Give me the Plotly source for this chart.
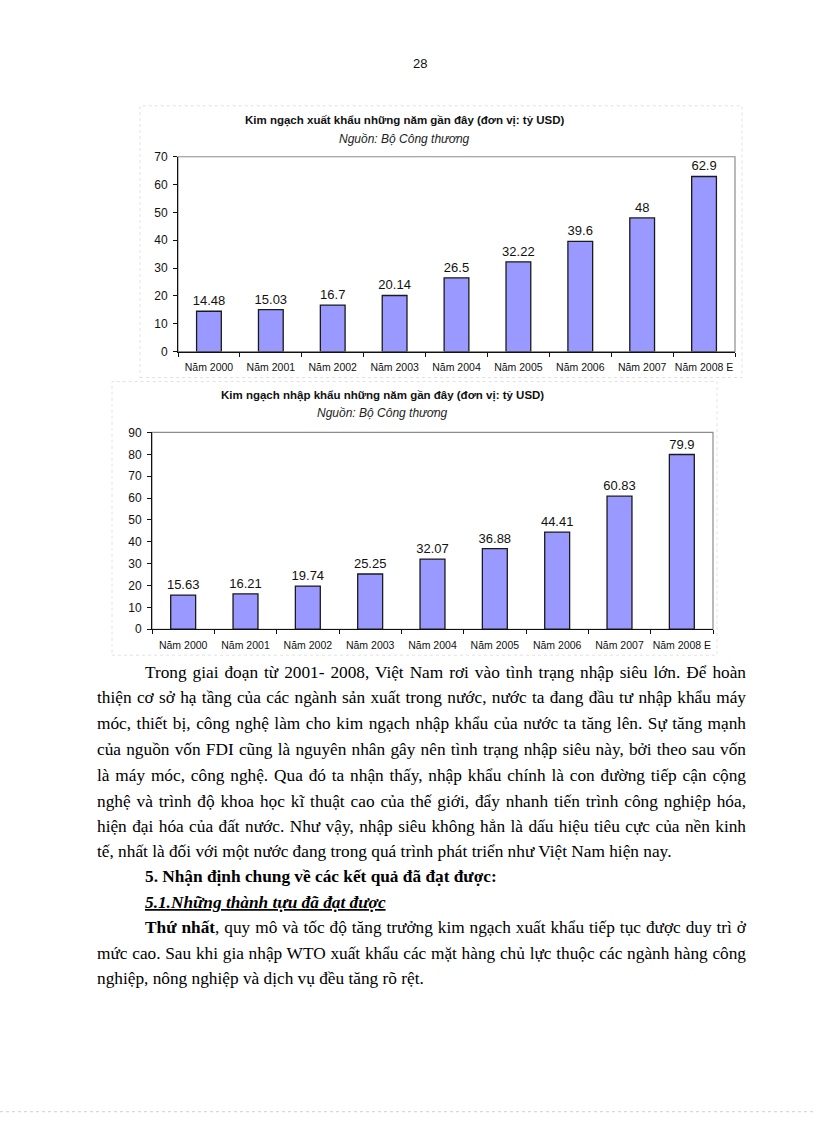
import json
import plotly.graph_objects as go

W, H = 816, 1123
# measured: the photographed page maps figure y to 0.9886*y + 6.1, so invert it
Y_SCALE, Y_OFF = 0.9886, 6.1

categories = ["Năm 2000", "Năm 2001", "Năm 2002", "Năm 2003", "Năm 2004",
              "Năm 2005", "Năm 2006", "Năm 2007", "Năm 2008 E"]
export_values = [14.48, 15.03, 16.7, 20.14, 26.5, 32.22, 39.6, 48, 62.9]
import_values = [15.63, 16.21, 19.74, 25.25, 32.07, 36.88, 44.41, 60.83, 79.9]
export_labels = ["14.48", "15.03", "16.7", "20.14", "26.5", "32.22", "39.6", "48", "62.9"]
import_labels = ["15.63", "16.21", "19.74", "25.25", "32.07", "36.88", "44.41", "60.83", "79.9"]

title1 = "Kim ngạch xuất khẩu những năm gần đây (đơn vị: tỷ USD)"
title2 = "Kim ngạch nhập khẩu những năm gần đây (đơn vị: tỷ USD)"
source = "Nguồn: Bộ Công thương"
page_number = "28"

body_lines = [
    "Trong giai đoạn từ 2001- 2008, Việt Nam rơi vào tình trạng nhập siêu lớn. Để hoàn",
    "thiện cơ sở hạ tầng của các ngành sản xuất trong nước, nước ta đang đầu tư nhập khẩu máy",
    "móc, thiết bị, công nghệ làm cho kim ngạch nhập khẩu của nước ta tăng lên. Sự tăng mạnh",
    "của nguồn vốn FDI cũng là nguyên nhân gây nên tình trạng nhập siêu này, bởi theo sau vốn",
    "là máy móc, công nghệ. Qua đó ta nhận thấy, nhập khẩu chính là con đường tiếp cận cộng",
    "nghệ và trình độ khoa học kĩ thuật cao của thế giới, đẩy nhanh tiến trình công nghiệp hóa,",
    "hiện đại hóa của đất nước. Như vậy, nhập siêu không hẳn là dấu hiệu tiêu cực của nền kinh",
    "tế, nhất là đối với một nước đang trong quá trình phát triển như Việt Nam hiện nay.",
    "<b>5. Nhận định chung về các kết quả đã đạt được:</b>",
    "<b><i><span style='text-decoration:underline'>5.1.Những thành tựu đã đạt được</span></i></b>",
    "<b>Thứ nhất</b>, quy mô và tốc độ tăng trưởng kim ngạch xuất khẩu tiếp tục được duy trì ở",
    "mức cao. Sau khi gia nhập WTO xuất khẩu các mặt hàng chủ lực thuộc các ngành hàng công",
    "nghiệp, nông nghiệp và dịch vụ đều tăng rõ rệt.",
]
body_indent = [1, 0, 0, 0, 0, 0, 0, 0, 1, 1, 1, 0, 0]
body_justify = [1, 1, 1, 1, 1, 1, 1, 0, 0, 0, 1, 1, 0]
body_y = [672, 697, 723, 749, 775, 801, 826, 852, 877, 903, 928, 954, 979]

BAR = "#9999ff"
EDGE = "#1a1a1a"
SANS = "Liberation Sans, Arial, sans-serif"
SERIF = "Liberation Serif, Times New Roman, serif"
LEFT, INDENT, RIGHT = 96, 144, 745


def px_x(v):
    return v / W


def px_y(v):
    return 1 - ((v - Y_OFF) / Y_SCALE) / H


fig = go.Figure()

for vals, labs, xa, ya in ((export_values, export_labels, "x", "y"),
                           (import_values, import_labels, "x2", "y2")):
    fig.add_trace(go.Bar(
        x=categories, y=vals, text=labs, textposition="outside",
        constraintext="none",
        textfont=dict(family=SANS, size=13, color="#111"), cliponaxis=False,
        marker=dict(color=BAR, line=dict(color=EDGE, width=1.3)), width=0.4,
        xaxis=xa, yaxis=ya, showlegend=False, hoverinfo="skip"))

xa_common = dict(type="category", showgrid=False, showline=True, linecolor="#111",
                 linewidth=1, ticks="outside", tickson="boundaries", ticklen=4,
                 tickcolor="#111", tickangle=0, ticklabelstandoff=6,
                 tickfont=dict(family=SANS, size=10.5, color="#111"),
                 fixedrange=True)
ya_common = dict(showgrid=False, showline=True, linecolor="#111", linewidth=1,
                 ticks="outside", ticklen=4, tickcolor="#111", dtick=10,
                 ticklabelstandoff=3,
                 tickfont=dict(family=SANS, size=12, color="#111"), zeroline=False,
                 fixedrange=True)

fig.update_layout(
    width=W, height=H, margin=dict(l=0, r=0, t=0, b=0),
    paper_bgcolor="white", plot_bgcolor="white",
    xaxis=dict(domain=[px_x(178), px_x(735)], anchor="y", **xa_common),
    yaxis=dict(domain=[px_y(351), px_y(156)], anchor="x", range=[0, 70], **ya_common),
    xaxis2=dict(domain=[px_x(152), px_x(713)], anchor="y2", **xa_common),
    yaxis2=dict(domain=[px_y(629), px_y(432)], anchor="x2", range=[0, 90], **ya_common),
    bargap=0.6,
)

shapes = []
for xr, yr in (("x domain", "y domain"), ("x2 domain", "y2 domain")):
    shapes.append(dict(type="rect", xref=xr, yref=yr, x0=0, x1=1, y0=0, y1=1,
                       line=dict(color="#8c8c8c", width=1.2), layer="below"))
shapes.append(dict(type="rect", xref="paper", yref="paper", x0=px_x(140), x1=px_x(742),
                   y0=px_y(377), y1=px_y(105), line=dict(color="#e2e2e2", width=1, dash="dot")))
shapes.append(dict(type="rect", xref="paper", yref="paper", x0=px_x(112), x1=px_x(717),
                   y0=px_y(655), y1=px_y(381), line=dict(color="#e2e2e2", width=1, dash="dot")))
shapes.append(dict(type="line", xref="paper", yref="paper", x0=0, x1=1,
                   y0=px_y(1112), y1=px_y(1112), line=dict(color="#d0d0d0", width=1, dash="dot")))
fig.update_layout(shapes=shapes)

ann = []
ann.append(dict(text=page_number, x=px_x(420), y=px_y(63), xref="paper", yref="paper",
                yanchor="middle", showarrow=False, font=dict(family=SANS, size=13, color="#111")))
for t, cx, cy in ((title1, 404.5, 120), (title2, 382.5, 395)):
    ann.append(dict(text="<b>" + t + "</b>", x=px_x(cx), y=px_y(cy), xref="paper",
                    yref="paper", yanchor="middle", showarrow=False,
                    font=dict(family=SANS, size=11.5, color="#111")))
for cx, cy in ((404.5, 138), (382.5, 413)):
    ann.append(dict(text="<i>" + source + "</i>", x=px_x(cx), y=px_y(cy), xref="paper",
                    yref="paper", yanchor="middle", showarrow=False,
                    font=dict(family=SANS, size=12, color="#222")))

justify_targets = {}
for line, ind, jus, yy in zip(body_lines, body_indent, body_justify, body_y):
    x0 = INDENT if ind else LEFT
    if jus:
        justify_targets[len(ann)] = RIGHT - x0
    ann.append(dict(text=line, x=px_x(x0), y=px_y(yy), xref="paper", yref="paper",
                    xanchor="left", yanchor="middle", align="left", showarrow=False,
                    borderpad=0, font=dict(family=SERIF, size=17.3, color="#000")))

fig.update_layout(annotations=ann)

# spread words of justified paragraph lines to the full text width
post = """
var gd = document.getElementById('{plot_id}');
var targets = %s;
gd.querySelectorAll('g.annotation').forEach(function(g){
  var idx = g.getAttribute('data-index');
  if (!(idx in targets)) return;
  var t = g.querySelector('text.annotation-text');
  if (!t) return;
  t.style.wordSpacing = '0px';
  var len = t.getComputedTextLength();
  var n = (t.textContent.trim().match(/\\s+/g) || []).length;
  if (n > 0 && targets[idx] > len) {
    t.style.wordSpacing = ((targets[idx] - len) / n) + 'px';
  }
});
""" % json.dumps({str(k): v for k, v in justify_targets.items()})

fig.write_html("out.html", config={"displayModeBar": False},
               post_script=["document.body.style.margin='0';", post])
